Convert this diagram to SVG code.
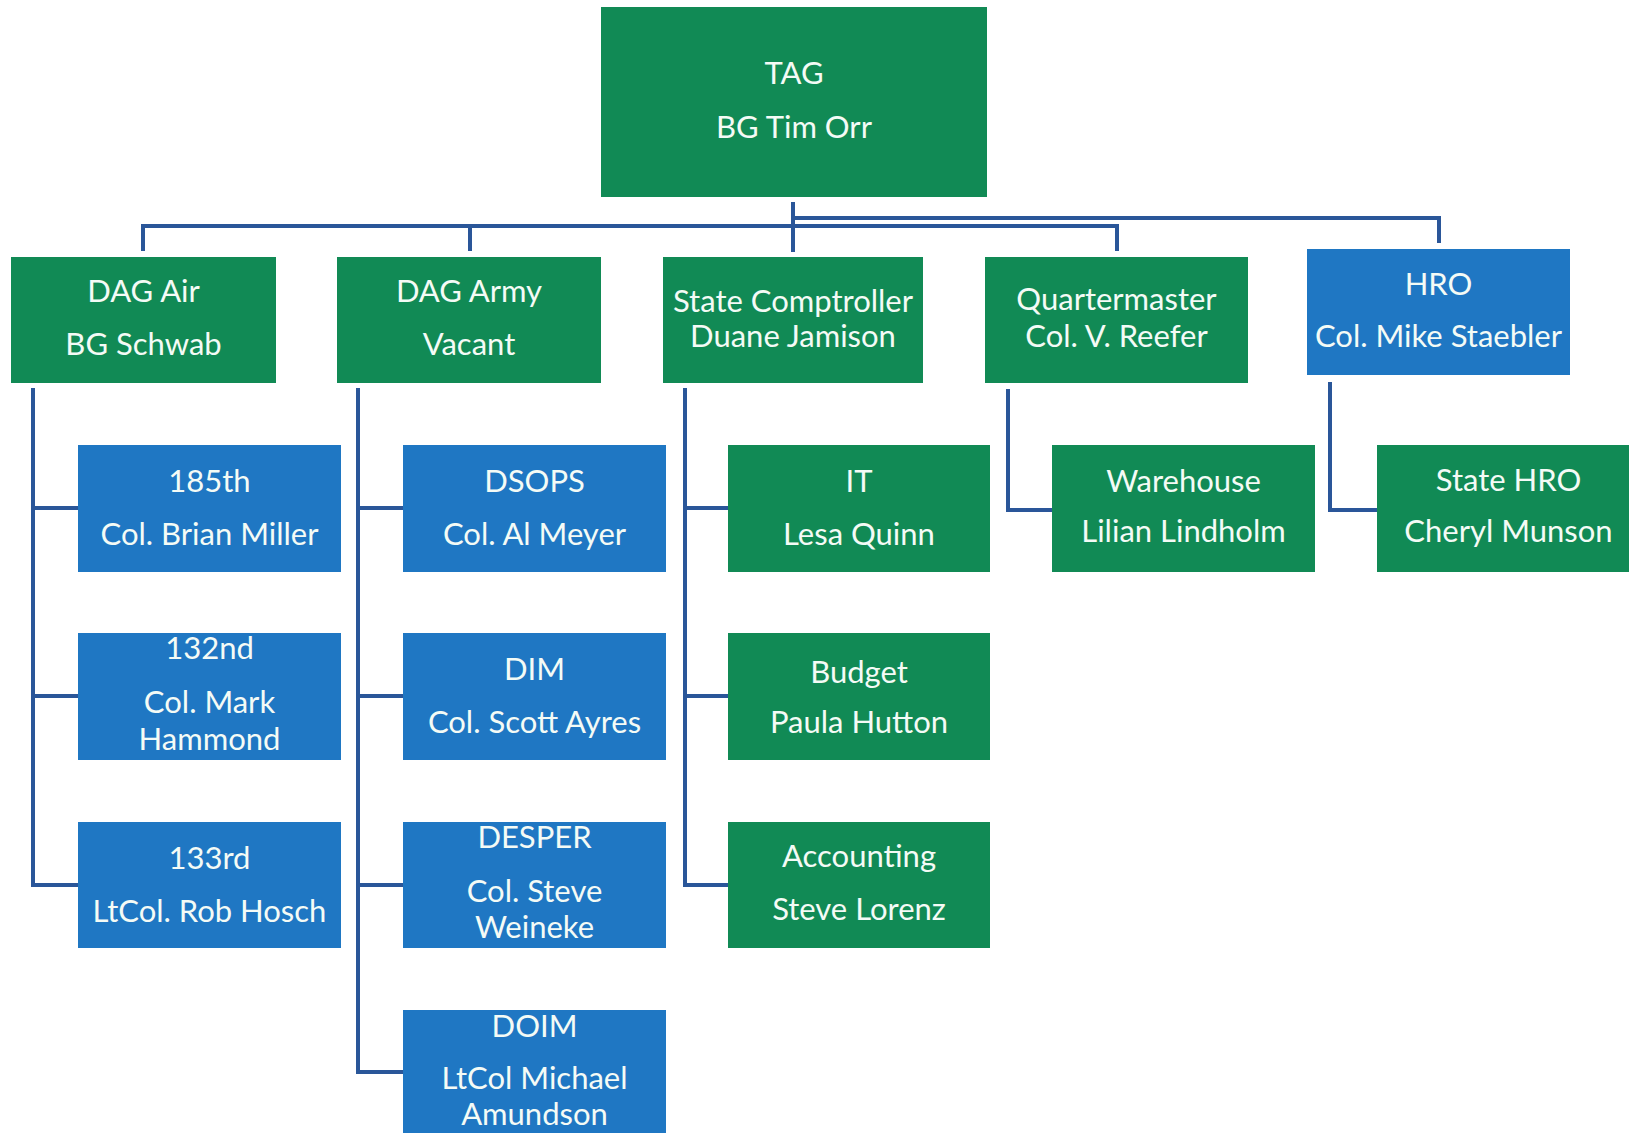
<svg xmlns="http://www.w3.org/2000/svg" width="1629" height="1133" viewBox="0 0 1629 1133">
<style>
.g{fill:#118a55}
.b{fill:#1f77c3}
.t{font-family:Lato,"Open Sans","Liberation Sans",sans-serif;font-size:31px;fill:#f4fbf6;text-anchor:middle}
.c{stroke:#2a5699;stroke-width:4;fill:none}
</style>
<rect width="1629" height="1133" fill="#ffffff"/>
<g id="connectors" class="c">
<path d="M793 202V252"/>
<path d="M143 251V226H1117V251"/>
<path d="M470 226V251"/>
<path d="M795 218H1439V243"/>
<path d="M33 388V885H78M33 508H78M33 696H78"/>
<path d="M358 388V1072H403M358 508H403M358 696H403M358 885H403"/>
<path d="M685 388V885H728M685 508H728M685 696H728"/>
<path d="M1008 389V510H1052"/>
<path d="M1330 382V510H1377"/>
</g>
<g id="tag"><rect class="g" x="601" y="7" width="386" height="190"/><text class="t" x="794" y="84">TAG</text><text class="t" x="794" y="138">BG Tim Orr</text></g>
<g id="dag-air"><rect class="g" x="11" y="257" width="265" height="126"/><text class="t" x="143.5" y="302">DAG Air</text><text class="t" x="143.5" y="355">BG Schwab</text></g>
<g id="dag-army"><rect class="g" x="337" y="257" width="264" height="126"/><text class="t" x="469" y="302">DAG Army</text><text class="t" x="469" y="355">Vacant</text></g>
<g id="state-comptroller"><rect class="g" x="663" y="257" width="260" height="126"/><text class="t" x="793" y="312">State Comptroller</text><text class="t" x="793" y="347">Duane Jamison</text></g>
<g id="quartermaster"><rect class="g" x="985" y="257" width="263" height="126"/><text class="t" x="1116.5" y="310">Quartermaster</text><text class="t" x="1116.5" y="347">Col. V. Reefer</text></g>
<g id="hro"><rect class="b" x="1307" y="249" width="263" height="126"/><text class="t" x="1438.5" y="295">HRO</text><text class="t" x="1438.5" y="347">Col. Mike Staebler</text></g>
<g id="n185th"><rect class="b" x="78" y="445" width="263" height="127"/><text class="t" x="209.5" y="492">185th</text><text class="t" x="209.5" y="545">Col. Brian Miller</text></g>
<g id="n132nd"><rect class="b" x="78" y="633" width="263" height="127"/><text class="t" x="209.5" y="659">132nd</text><text class="t" x="209.5" y="713">Col. Mark</text><text class="t" x="209.5" y="750">Hammond</text></g>
<g id="n133rd"><rect class="b" x="78" y="822" width="263" height="126"/><text class="t" x="209.5" y="869">133rd</text><text class="t" x="209.5" y="922">LtCol. Rob Hosch</text></g>
<g id="dsops"><rect class="b" x="403" y="445" width="263" height="127"/><text class="t" x="534.5" y="492">DSOPS</text><text class="t" x="534.5" y="545">Col. Al Meyer</text></g>
<g id="dim"><rect class="b" x="403" y="633" width="263" height="127"/><text class="t" x="534.5" y="680">DIM</text><text class="t" x="534.5" y="733">Col. Scott Ayres</text></g>
<g id="desper"><rect class="b" x="403" y="822" width="263" height="126"/><text class="t" x="534.5" y="848">DESPER</text><text class="t" x="534.5" y="902">Col. Steve</text><text class="t" x="534.5" y="938">Weineke</text></g>
<g id="doim"><rect class="b" x="403" y="1010" width="263" height="130"/><text class="t" x="534.5" y="1037">DOIM</text><text class="t" x="534.5" y="1089">LtCol Michael</text><text class="t" x="534.5" y="1125">Amundson</text></g>
<g id="it"><rect class="g" x="728" y="445" width="262" height="127"/><text class="t" x="859" y="492">IT</text><text class="t" x="859" y="545">Lesa Quinn</text></g>
<g id="budget"><rect class="g" x="728" y="633" width="262" height="127"/><text class="t" x="859" y="683">Budget</text><text class="t" x="859" y="733">Paula Hutton</text></g>
<g id="accounting"><rect class="g" x="728" y="822" width="262" height="126"/><text class="t" x="859" y="867">Accounting</text><text class="t" x="859" y="920">Steve Lorenz</text></g>
<g id="warehouse"><rect class="g" x="1052" y="445" width="263" height="127"/><text class="t" x="1183.5" y="492">Warehouse</text><text class="t" x="1183.5" y="542">Lilian Lindholm</text></g>
<g id="state-hro"><rect class="g" x="1377" y="445" width="263" height="127"/><text class="t" x="1508.5" y="491">State HRO</text><text class="t" x="1508.5" y="542">Cheryl Munson</text></g>
</svg>
